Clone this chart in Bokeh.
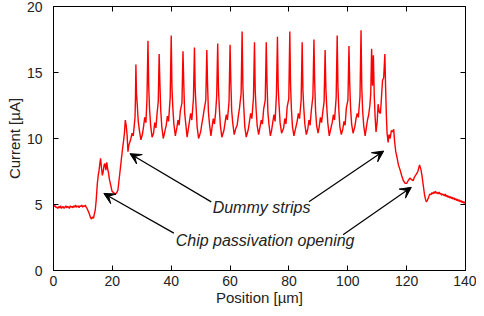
from bokeh.plotting import figure
from bokeh.models import LinearAxis, Range1d, Arrow, VeeHead, Label, FixedTicker, ColumnDataSource
from bokeh.embed import file_html
from bokeh.resources import INLINE

# ---- data ----
x_ticks = [0, 20, 40, 60, 80, 100, 120, 140]
y_ticks = [0, 5, 10, 15, 20]

base_left_x = [0.0, 0.3, 0.6, 0.9, 1.2, 1.5, 1.8, 2.1, 2.4, 2.7, 3.0, 3.3, 3.6, 3.9, 4.2,
               4.5, 4.8, 5.1, 5.4, 5.7, 6.0, 6.3, 6.6, 6.9, 7.2, 7.5, 7.8, 8.1, 8.4, 8.7,
               9.0, 9.3, 9.6, 9.9, 10.2, 10.5, 10.8, 11.1, 11.4, 11.7, 12.0, 12.3, 12.6, 12.9, 13.2]
base_left_y = [5.0, 4.85, 4.9, 4.75, 4.8, 4.7, 4.85, 4.75, 4.9, 4.7, 4.8, 4.85, 4.7, 4.8, 4.9,
               4.75, 4.85, 4.8, 4.7, 4.9, 4.8, 4.85, 4.75, 4.9, 4.8, 4.95, 4.8, 4.85, 4.9, 4.75,
               4.9, 4.85, 4.95, 4.8, 4.9, 4.85, 4.95, 4.8, 4.7, 4.55, 4.4, 4.2, 4.0, 3.9, 4.05]

rise_x = [13.6, 13.9, 14.2, 14.5, 14.9, 15.2, 15.5, 15.8, 16.0, 16.3, 16.6, 16.9, 17.2, 17.5,
          17.8, 18.1, 18.4, 18.7, 19.0, 19.4, 19.9, 20.4, 21.0, 21.5, 21.9, 22.4, 23.0, 23.5,
          23.8, 24.1, 24.4, 24.7, 25.0, 25.3, 25.6, 25.9, 26.3, 26.7, 27.1, 27.4, 27.7]
rise_y = [3.95, 4.3, 4.6, 5.3, 6.6, 7.2, 7.6, 8.2, 8.5, 7.8, 7.2, 7.5, 8.0, 8.1,
          7.6, 8.2, 7.7, 7.4, 6.9, 6.5, 6.0, 5.9, 5.8, 5.9, 6.1, 7.1, 8.3, 9.3,
          9.8, 10.4, 11.4, 11.0, 10.3, 9.0, 9.5, 9.7, 10.0, 10.4, 10.2, 10.9, 11.6]

strips_x = [
    27.85, 28.0, 28.2, 28.45, 28.8, 29.2, 29.7,
    30.2, 30.6, 31.0, 31.4, 31.75, 32.1, 32.35, 32.65, 33.0, 33.5,
    34.0, 34.4, 34.8, 35.2, 35.6, 35.9, 36.15, 36.45, 36.8, 37.3,
    37.9, 38.3, 38.7, 39.1, 39.65, 40.0, 40.25, 40.55, 40.9, 41.4,
    41.9, 42.3, 42.7, 43.1, 43.65, 44.0, 44.25, 44.55, 44.9, 45.4,
    45.8, 46.2, 46.6, 47.0, 47.55, 47.9, 48.15, 48.45, 48.8, 49.3,
    50.0, 50.4, 50.8, 51.2, 51.75, 52.1, 52.35, 52.65, 53.0, 53.5,
    53.9, 54.3, 54.7, 55.1, 55.45, 55.8, 56.05, 56.35, 56.7, 57.2,
    57.9, 58.3, 58.7, 59.1, 59.65, 60.0, 60.25, 60.55, 60.9, 61.4,
    62.0, 62.4, 62.8, 63.2, 63.75, 64.1, 64.35, 64.65, 65.0, 65.5,
    66.2, 66.6, 67.0, 67.4, 67.95, 68.3, 68.55, 68.85, 69.2, 69.7,
    70.2, 70.6, 71.0, 71.4, 71.95, 72.3, 72.55, 72.85, 73.2, 73.7,
    74.1, 74.5, 74.9, 75.3, 75.75, 76.1, 76.35, 76.65, 77.0, 77.5,
    78.2, 78.6, 79.0, 79.4, 79.95, 80.3, 80.55, 80.85, 81.2, 81.7,
    82.4, 82.8, 83.2, 83.6, 84.15, 84.5, 84.75, 85.05, 85.4, 85.9,
    86.4, 86.8, 87.2, 87.6, 88.15, 88.5, 88.75, 89.05, 89.4, 89.9,
    90.3, 90.7, 91.1, 91.5, 91.95, 92.3, 92.55, 92.85, 93.2, 93.7,
    94.3, 94.7, 95.1, 95.5, 96.05, 96.4, 96.65, 96.95, 97.3, 97.8,
    98.3, 98.7, 99.1, 99.5, 100.05, 100.4, 100.65, 100.95, 101.3, 101.8,
    102.4, 102.8, 103.2, 103.6, 104.15, 104.5, 104.75, 105.05, 105.4, 105.9,
    106.3, 106.7, 107.1, 107.5, 107.8, 108.1, 108.4, 108.7, 109.0, 109.3, 109.6,
    110.0, 110.3, 110.7, 111.1, 111.5, 111.8, 112.2, 112.6, 112.85, 113.1, 113.35,
]
strips_y = [
    13.0, 15.6, 13.4, 12.6, 11.3, 10.6, 9.9,
    10.3, 10.9, 11.6, 11.2, 12.9, 17.4, 14.0, 12.2, 11.0, 10.1,
    10.4, 11.2, 10.8, 11.9, 12.8, 16.4, 14.2, 12.1, 10.9, 10.0,
    10.6, 11.0, 11.7, 11.3, 13.1, 17.8, 13.9, 12.3, 11.1, 10.2,
    10.8, 11.4, 11.0, 12.1, 12.7, 16.6, 14.3, 12.0, 11.2, 10.1,
    10.7, 11.3, 11.9, 11.4, 13.0, 16.9, 13.7, 12.4, 10.9, 10.0,
    10.5, 11.1, 11.6, 12.2, 12.9, 16.7, 14.1, 12.0, 11.1, 10.2,
    10.9, 11.5, 11.1, 12.0, 13.2, 17.2, 13.8, 12.3, 11.0, 10.1,
    10.6, 11.2, 11.8, 11.4, 12.8, 17.1, 14.4, 12.1, 11.2, 10.3,
    10.8, 11.0, 11.7, 12.3, 13.4, 18.1, 14.0, 12.4, 10.9, 10.1,
    10.7, 11.3, 11.9, 11.5, 13.1, 17.3, 13.6, 12.2, 11.0, 10.3,
    10.9, 11.4, 11.1, 12.2, 12.9, 17.3, 14.2, 12.0, 11.1, 10.2,
    10.6, 11.2, 11.8, 11.3, 13.3, 17.7, 13.9, 12.5, 11.2, 10.4,
    10.8, 11.5, 11.1, 12.4, 13.0, 18.1, 14.1, 12.2, 10.9, 10.2,
    10.9, 11.3, 11.9, 11.5, 12.9, 17.3, 13.7, 12.3, 11.1, 10.3,
    10.7, 11.4, 11.0, 12.1, 13.2, 17.5, 14.3, 12.1, 11.0, 10.4,
    10.9, 11.6, 11.2, 12.0, 12.8, 16.7, 13.8, 12.4, 11.2, 10.2,
    10.8, 11.2, 11.8, 11.4, 13.1, 17.8, 14.0, 12.2, 10.9, 10.3,
    10.7, 11.3, 11.0, 12.3, 12.9, 17.0, 14.2, 12.3, 11.1, 10.4,
    10.9, 11.5, 11.9, 11.6, 13.2, 18.2, 13.9, 12.1, 11.0, 10.2,
    10.8, 11.4, 11.8, 12.5, 13.4, 16.8, 14.0, 16.3, 13.2, 11.6, 10.5,
    11.3, 12.6, 12.0, 11.9, 13.3, 14.4, 14.6, 16.4, 13.9, 11.8, 10.4,
]

fall_x = [113.7, 114.0, 114.4, 114.8, 115.2, 115.6, 115.9, 116.3, 116.7, 117.2, 117.8,
          118.3, 118.9, 119.5, 120.0, 120.5, 121.1, 121.6, 122.2, 122.7, 123.3, 123.8,
          124.4, 124.9, 125.2, 125.5, 125.8, 126.1, 126.4, 126.7, 127.0, 127.4]
fall_y = [9.7, 10.3, 10.0, 10.6, 10.5, 10.7, 9.8, 9.0, 8.6, 8.0, 7.6,
          7.2, 6.8, 6.6, 6.6, 6.8, 7.0, 6.9, 6.8, 7.1, 7.3, 7.5,
          8.0, 7.6, 7.2, 6.7, 6.2, 5.7, 5.4, 5.2, 5.3, 5.5]

base_right_x = [127.7, 128.0, 128.3, 128.6, 128.9, 129.2, 129.5, 129.8, 130.1, 130.4, 130.7,
                131.0, 131.3, 131.6, 131.9, 132.2, 132.5, 132.8, 133.1, 133.4, 133.7, 134.0,
                134.3, 134.6, 134.9, 135.2, 135.5, 135.8, 136.1, 136.4, 136.7, 137.0, 137.3,
                137.6, 137.9, 138.2, 138.5, 138.8, 139.1, 139.4, 139.7, 140.0]
base_right_y = [5.7, 5.8, 5.75, 5.9, 5.8, 5.95, 5.85, 6.0, 5.85, 5.9, 5.8,
                5.95, 5.8, 5.85, 5.7, 5.8, 5.75, 5.65, 5.8, 5.6, 5.7, 5.55,
                5.65, 5.5, 5.6, 5.45, 5.55, 5.4, 5.5, 5.35, 5.45, 5.3, 5.4,
                5.25, 5.35, 5.2, 5.3, 5.15, 5.25, 5.1, 5.2, 5.05]

# annotations: (text, x, y) and arrows (tail x, tail y, head x, head y)
labels = [("Dummy strips", 70.7, 4.74), ("Chip passivation opening", 71.9, 2.26)]
arrow_tail_x = [53.6, 86.8, 40.9, 98.4]
arrow_tail_y = [5.2, 5.2, 2.83, 2.7]
arrow_head_x = [26.0, 112.2, 17.1, 121.6]
arrow_head_y = [8.85, 9.05, 5.84, 6.3]

xs = base_left_x + rise_x + strips_x + fall_x + base_right_x
ys = base_left_y + rise_y + strips_y + fall_y + base_right_y
src = ColumnDataSource(dict(x=xs, y=ys))

FONT = "Liberation Sans"
TXT = "#222222"

p = figure(width=476, height=308, output_backend="svg", toolbar_location=None,
           x_range=Range1d(0, 140), y_range=Range1d(0, 20),
           min_border_left=53, min_border_right=11, min_border_top=6, min_border_bottom=37,
           x_axis_label="Position [µm]", y_axis_label="Current [µA]")
p.grid.visible = False
p.outline_line_color = "black"
p.outline_line_width = 1

p.line("x", "y", source=src, line_color="#ff0000", line_width=1.4)

for ax in (p.xaxis[0], p.yaxis[0]):
    ax.major_tick_in = 5
    ax.major_tick_out = 0
    ax.minor_tick_in = 0
    ax.minor_tick_out = 0
    ax.axis_line_color = "black"
    ax.major_tick_line_color = "black"
    ax.major_label_text_font = FONT
    ax.major_label_text_font_size = "14px"
    ax.major_label_text_color = TXT
    ax.axis_label_text_font = FONT
    ax.axis_label_text_font_size = "15px"
    ax.axis_label_text_font_style = "normal"
    ax.axis_label_text_color = TXT

p.xaxis[0].ticker = FixedTicker(ticks=x_ticks)
p.yaxis[0].ticker = FixedTicker(ticks=y_ticks)
p.xaxis[0].major_label_standoff = 5
p.xaxis[0].axis_label_standoff = 0
p.yaxis[0].major_label_standoff = 11
p.yaxis[0].axis_label_standoff = 1

top = LinearAxis(ticker=FixedTicker(ticks=x_ticks), major_label_text_font_size="0px",
                 major_tick_in=5, major_tick_out=0, minor_tick_in=0, minor_tick_out=0,
                 major_label_standoff=0)
right = LinearAxis(ticker=FixedTicker(ticks=y_ticks), major_label_text_font_size="0px",
                   major_tick_in=5, major_tick_out=0, minor_tick_in=0, minor_tick_out=0,
                   major_label_standoff=0)
p.add_layout(top, "above")
p.add_layout(right, "right")

for tx, ty, hx, hy in zip(arrow_tail_x, arrow_tail_y, arrow_head_x, arrow_head_y):
    p.add_layout(Arrow(x_start=tx, y_start=ty, x_end=hx, y_end=hy, line_color="black",
                       line_width=1.2,
                       end=VeeHead(size=11, fill_color="black", line_color="black", line_width=1)))

for text, lx, ly in labels:
    p.add_layout(Label(x=lx, y=ly, text=text, text_font=FONT, text_font_size="16px",
                       text_font_style="italic", text_align="center", text_baseline="middle",
                       text_color=TXT))

open("out.html", "w").write(file_html(p, INLINE))
